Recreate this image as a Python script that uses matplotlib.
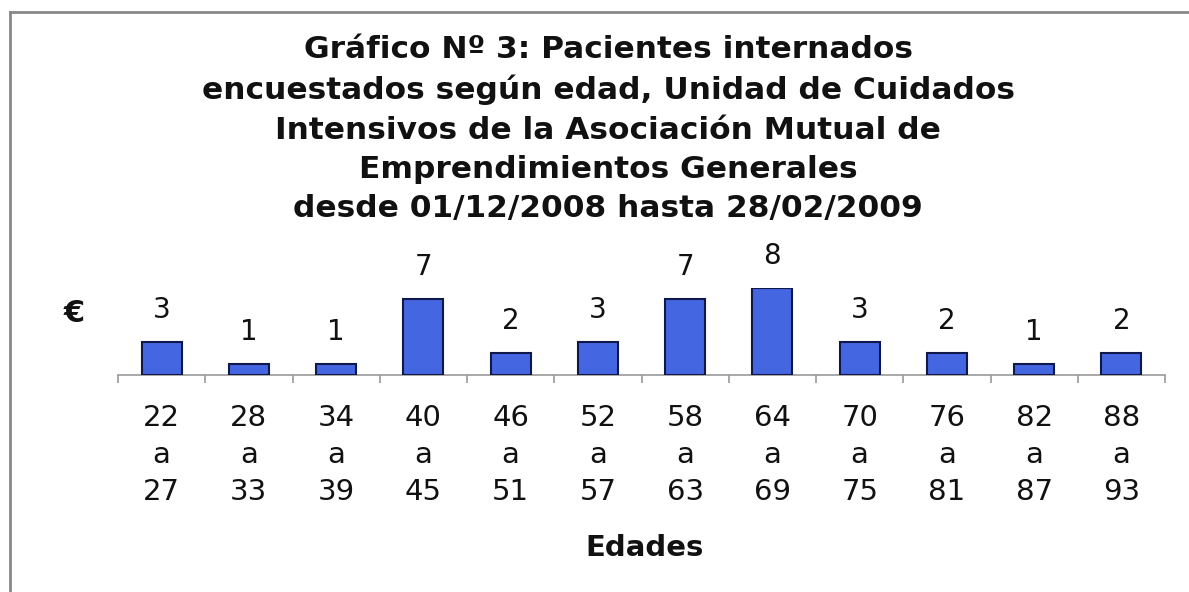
import matplotlib
matplotlib.use("Agg")
import matplotlib.pyplot as plt
from matplotlib.lines import Line2D

categories = ["22\na\n27", "28\na\n33", "34\na\n39", "40\na\n45", "46\na\n51", "52\na\n57",
              "58\na\n63", "64\na\n69", "70\na\n75", "76\na\n81", "82\na\n87", "88\na\n93"]
values = [3, 1, 1, 7, 2, 3, 7, 8, 3, 2, 1, 2]
title = ("Gráfico Nº 3: Pacientes internados\n"
         "encuestados según edad, Unidad de Cuidados\n"
         "Intensivos de la Asociación Mutual de\n"
         "Emprendimientos Generales\n"
         "desde 01/12/2008 hasta 28/02/2009")
xlabel = "Edades"
ylabel = "€"

W, H = 1189, 592
plt.rcParams['font.family'] = ['DejaVu Sans']
fig = plt.figure(figsize=(W / 100, H / 100), dpi=100)

def px(x0, y0, x1, y1):
    return [x0 / W, 1 - y1 / H, (x1 - x0) / W, (y1 - y0) / H]

ax = fig.add_axes(px(118, 288, 1165, 375))
pos = list(range(len(values)))
ax.bar(pos, values, width=0.46, color='#4466E0', edgecolor='#10184a', linewidth=1.5, zorder=3)
ax.set_xlim(-0.5, len(values) - 0.5)
ax.set_ylim(0, 8)
for s in ['top', 'right', 'left']:
    ax.spines[s].set_visible(False)
ax.spines['bottom'].set_color('#999999')
ax.spines['bottom'].set_linewidth(1.2)
ax.set_yticks([])
ax.set_xticks(pos)
ax.set_xticklabels(categories, fontsize=21, linespacing=1.4, color='#111111')
ax.tick_params(axis='x', which='major', length=0, pad=21)
ax.set_xticks([p - 0.5 for p in pos] + [len(values) - 0.5], minor=True)
ax.tick_params(axis='x', which='minor', length=6, color='#999999', width=1.2, direction='out')

for p, v in zip(pos, values):
    ax.annotate(str(v), (p, v), xytext=(0, 23), textcoords='offset points',
                ha='center', va='center', fontsize=20, color='#111111')

fig.text(608 / W, 1 - 129 / H, title, ha='center', va='center', fontsize=22.5,
         fontweight='bold', linespacing=1.44, color='#111111')
fig.text(645 / W, 1 - 548 / H, xlabel, ha='center', va='center', fontsize=21,
         fontweight='bold', color='#111111')
fig.text(74 / W, 1 - 314 / H, ylabel, ha='center', va='center', fontsize=22,
         fontweight='bold', color='#111111')

fig.add_artist(Line2D([10 / W, 10 / W], [0, 1 - 12 / H], transform=fig.transFigure,
                      color='#888888', linewidth=2))
fig.add_artist(Line2D([10 / W, 1], [1 - 12 / H, 1 - 12 / H], transform=fig.transFigure,
                      color='#888888', linewidth=2))

fig.savefig("out.png", dpi=100, facecolor='white')
